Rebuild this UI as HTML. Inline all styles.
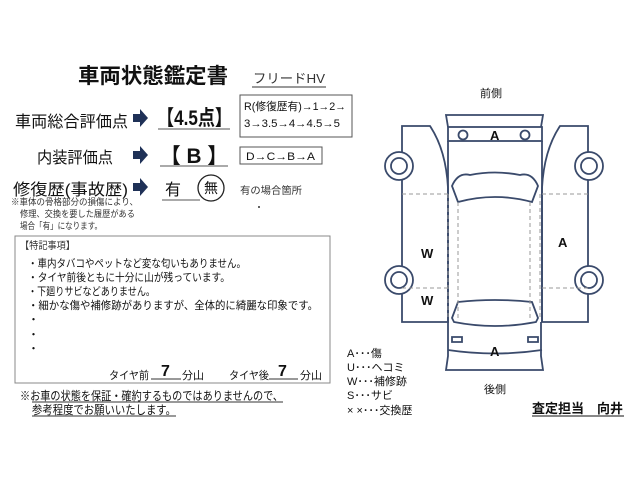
<!DOCTYPE html>
<html><head><meta charset="utf-8"><style>
body{margin:0;background:#fff;}
svg{display:block;font-family:"Liberation Sans","Noto Sans CJK JP",sans-serif;}
</style></head><body>
<svg width="640" height="480" viewBox="0 0 640 480" xmlns="http://www.w3.org/2000/svg">
<rect width="640" height="480" fill="#fff"/>
<g fill="#111">
<text x="78" y="83" font-size="21" font-weight="bold" textLength="150" lengthAdjust="spacingAndGlyphs">車両状態鑑定書</text>
<text x="253" y="83" font-size="13" fill="#333" textLength="72" lengthAdjust="spacingAndGlyphs">フリードHV</text>
<line x1="252" y1="87" x2="326" y2="87" stroke="#333" stroke-width="1"/>
<text x="15" y="127" font-size="16" textLength="113" lengthAdjust="spacingAndGlyphs">車両総合評価点</text>
<text x="157" y="125" font-size="21" font-weight="bold" textLength="75" lengthAdjust="spacingAndGlyphs">【4.5点】</text>
<line x1="158" y1="129" x2="230" y2="129" stroke="#555"/>
<text x="37" y="163" font-size="16" textLength="76" lengthAdjust="spacingAndGlyphs">内装評価点</text>
<text x="160" y="163" font-size="21" font-weight="bold" textLength="68" lengthAdjust="spacingAndGlyphs">【 B 】</text>
<line x1="160" y1="166" x2="228" y2="166" stroke="#555"/>
<text x="13" y="195" font-size="16" textLength="115" lengthAdjust="spacingAndGlyphs">修復歴(事故歴)</text>
<text x="165" y="195" font-size="16">有</text>
<circle cx="211" cy="188" r="13" fill="none" stroke="#222" stroke-width="1.3"/>
<text x="204" y="193" font-size="14">無</text>
<line x1="162" y1="200" x2="200" y2="200" stroke="#555"/>
<text x="240" y="194" font-size="10" fill="#333" textLength="62" lengthAdjust="spacingAndGlyphs">有の場合箇所</text>
<circle cx="259" cy="207" r="1" fill="#333"/>
<text x="11" y="205" font-size="9" fill="#333" textLength="127" lengthAdjust="spacingAndGlyphs">※車体の骨格部分の損傷により、</text>
<text x="20" y="217" font-size="9" fill="#333" textLength="115" lengthAdjust="spacingAndGlyphs">修理、交換を要した履歴がある</text>
<text x="20" y="229" font-size="9" fill="#333" textLength="82" lengthAdjust="spacingAndGlyphs">場合「有」になります。</text>
</g>
<g fill="#1f3157">
<path d="M133 114h7v-5l8 9-8 9v-5h-7z"/>
<path d="M133 151h7v-5l8 9-8 9v-5h-7z"/>
<path d="M133 183h7v-5l8 9-8 9v-5h-7z"/>
</g>
<rect x="240" y="95" width="112" height="42" fill="none" stroke="#555"/>
<text x="244" y="110" font-size="11" fill="#111" textLength="102" lengthAdjust="spacingAndGlyphs">R(修復歴有)→1→2→</text>
<text x="244" y="127" font-size="11" fill="#111" textLength="96" lengthAdjust="spacingAndGlyphs">3→3.5→4→4.5→5</text>
<rect x="240" y="147" width="82" height="17" fill="none" stroke="#555"/>
<text x="246" y="160" font-size="11" fill="#111" textLength="69" lengthAdjust="spacingAndGlyphs">D→C→B→A</text>
<rect x="15" y="236" width="315" height="147" fill="none" stroke="#888"/>
<g fill="#111" font-size="11">
<text x="20" y="249" font-size="10" fill="#333" textLength="55" lengthAdjust="spacingAndGlyphs">【特記事項】</text>
<text x="28" y="267" textLength="218" lengthAdjust="spacingAndGlyphs">・車内タバコやペットなど変な匂いもありません。</text>
<text x="28" y="281" textLength="202" lengthAdjust="spacingAndGlyphs">・タイヤ前後ともに十分に山が残っています。</text>
<text x="28" y="295" textLength="127" lengthAdjust="spacingAndGlyphs">・下廻りサビなどありません。</text>
<text x="28" y="309" textLength="290" lengthAdjust="spacingAndGlyphs">・細かな傷や補修跡がありますが、全体的に綺麗な印象です。</text>
<text x="28" y="323">・</text><text x="28" y="338">・</text><text x="28" y="352">・</text>
<text x="109" y="379" textLength="40" lengthAdjust="spacingAndGlyphs">タイヤ前</text>
<text x="161" y="376" font-size="16" font-weight="bold">7</text>
<line x1="151" y1="379" x2="181" y2="379" stroke="#333"/>
<text x="182" y="379">分山</text>
<text x="229" y="379" textLength="40" lengthAdjust="spacingAndGlyphs">タイヤ後</text>
<text x="278" y="376" font-size="16" font-weight="bold">7</text>
<line x1="269" y1="379" x2="298" y2="379" stroke="#333"/>
<text x="300" y="379">分山</text>
<text x="20" y="400" font-size="12" textLength="263" lengthAdjust="spacingAndGlyphs">※お車の状態を保証・確約するものではありませんので、</text>
<text x="32" y="414" font-size="12" textLength="144" lengthAdjust="spacingAndGlyphs">参考程度でお願いいたします。</text>
</g>
<line x1="32" y1="402" x2="283" y2="402" stroke="#333"/>
<line x1="32" y1="416" x2="176" y2="416" stroke="#333"/>
<g fill="#111" font-size="11">
<text x="347" y="357">A･･･傷</text>
<text x="347" y="371">U･･･ヘコミ</text>
<text x="347" y="385">W･･･補修跡</text>
<text x="347" y="399">S･･･サビ</text>
<text x="347" y="414">× ×･･･交換歴</text>
<text x="480" y="97">前側</text>
<text x="484" y="393">後側</text>
<text x="532" y="413" font-size="13" font-weight="bold">査定担当　向井</text>
</g>
<line x1="532" y1="416" x2="624" y2="416" stroke="#111"/>
<g fill="none" stroke="#3a4a6b" stroke-width="1.8">
<path d="M448 127L446 115H543L541 127"/>
<rect x="448" y="127" width="94" height="14"/>
<circle cx="463" cy="135" r="4.5"/><circle cx="525" cy="135" r="4.5"/>
<path d="M448 141V322"/><path d="M542 141V322"/>
<path d="M448 322V356L446 370H543L541 356V322"/>
<path d="M402 126H430Q446 150 448 188L448 322H402Z"/>
<path d="M588 126H560Q544 150 542 188L542 322H588Z"/>
<path d="M452 186Q458 172 470 175Q495 170 520 175Q532 172 538 186L532 202Q495 192 458 202Z"/>
<path d="M458 302Q495 298 532 302L538 318L536 322Q495 330 454 322L452 318Z"/>
<path d="M452 337H462V342H452Z"/><path d="M528 337H538V342H528Z"/>
<path d="M448 350Q495 357 542 350"/>
<circle cx="399" cy="166" r="14" fill="#fff"/><circle cx="399" cy="166" r="8"/>
<circle cx="399" cy="280" r="14" fill="#fff"/><circle cx="399" cy="280" r="8"/>
<circle cx="589" cy="166" r="14" fill="#fff"/><circle cx="589" cy="166" r="8"/>
<circle cx="589" cy="280" r="14" fill="#fff"/><circle cx="589" cy="280" r="8"/>
</g>
<g stroke="#999" stroke-dasharray="4,3" stroke-width="1" fill="none">
<path d="M402 194H448M402 288H448M542 194H588M542 288H588"/>
<path d="M448 194V320M458 202V320M530 202V320M540 194V320"/>
</g>
<g fill="#111" font-size="13" font-weight="bold">
<text x="490" y="140">A</text>
<text x="421" y="258">W</text>
<text x="421" y="305">W</text>
<text x="558" y="247">A</text>
<text x="490" y="356">A</text>
</g>
</svg>
</body></html>
